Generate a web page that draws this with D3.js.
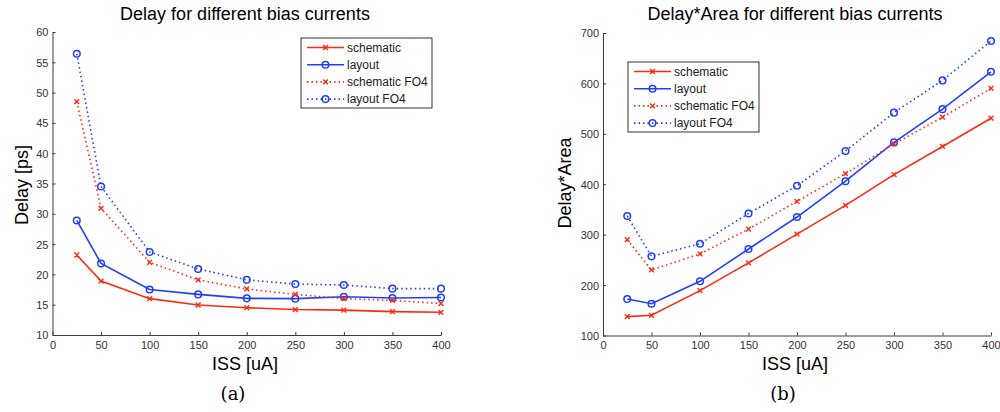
<!DOCTYPE html>
<html>
<head>
<meta charset="utf-8">
<script src="https://cdn.jsdelivr.net/npm/d3@7"></script>
<style>
  body { margin: 0; background: #fff; }
  svg { display: block; font-family: "Liberation Sans", Arial, sans-serif; }
</style>
</head>
<body>
<svg id="fig" width="1000" height="412"></svg>
<script>
// bias currents (x values) shared by both plots
const iss = [25, 50, 100, 150, 200, 250, 300, 350, 400];

// (a) delay in ps
const delaySchematic = [23.2, 18.9, 16.0, 14.95, 14.5, 14.2, 14.1, 13.85, 13.75];
const delayLayout = [28.9, 21.8, 17.5, 16.7, 16.05, 16.0, 16.3, 16.1, 16.2];
const delaySchematicFO4 = [48.5, 30.9, 22.0, 19.1, 17.6, 16.7, 16.0, 15.7, 15.2];
const delayLayoutFO4 = [56.4, 34.5, 23.7, 20.9, 19.1, 18.4, 18.25, 17.65, 17.65];

// (b) delay*area
const daSchematic = [137.5, 140, 189, 244, 301, 358, 419, 475, 531];
const daLayout = [172.5, 163, 207.5, 271.5, 335, 406, 483, 549, 623];
const daSchematicFO4 = [290, 230, 262, 311, 366, 421, 480, 533, 590];
const daLayoutFO4 = [337, 257, 282, 342, 397, 466, 542, 606, 684];

const seriesNames = ["schematic", "layout", "schematic FO4", "layout FO4"];
const xTicks = [0, 50, 100, 150, 200, 250, 300, 350, 400];
const delayTicks = [10, 15, 20, 25, 30, 35, 40, 45, 50, 55, 60];
const daTicks = [100, 200, 300, 400, 500, 600, 700];

const RED = "#ff2a12", BLUE = "#1f3fff";
const styles = [
  { color: RED, dash: null, marker: "x" },
  { color: BLUE, dash: null, marker: "o" },
  { color: RED, dash: "1.5,3", marker: "x" },
  { color: BLUE, dash: "1.5,3", marker: "o" }
];

const svg = d3.select("#fig");

function drawMarker(g, type, x, y, color) {
  if (type === "o") {
    g.append("circle").attr("cx", x).attr("cy", y).attr("r", 3.3)
      .attr("fill", "none").attr("stroke", color).attr("stroke-width", 1.5);
  } else {
    const s = 2.4;
    g.append("path")
      .attr("d", `M${x - s},${y - s}L${x + s},${y + s}M${x - s},${y + s}L${x + s},${y - s}`)
      .attr("stroke", color).attr("stroke-width", 1.4);
  }
}

function drawPanel(p) {
  const x = d3.scaleLinear().domain([0, 400]).range([p.left, p.right]);
  const y = d3.scaleLinear().domain(p.yDomain).range([p.bottom, p.top]);
  const g = svg.append("g");

  // axes, ticks pointing into the plot like matlab
  const xa = g.append("g").attr("transform", `translate(0,${p.bottom})`)
    .call(d3.axisBottom(x).tickValues(xTicks).tickSizeInner(-3).tickSizeOuter(0).tickPadding(6));
  const ya = g.append("g").attr("transform", `translate(${p.left},0)`)
    .call(d3.axisLeft(y).tickValues(p.yTicks).tickSizeInner(-3).tickSizeOuter(0).tickPadding(4));
  [xa, ya].forEach(a => {
    a.selectAll("path, line").attr("stroke", "#3a3a3a");
    a.selectAll("text").attr("fill", "#333").style("font-size", "11px");
  });
  ya.selectAll("text").attr("dy", "0.36em");

  const line = d3.line().x((d, i) => x(iss[i])).y(d => y(d));

  p.series.forEach((vals, k) => {
    const st = styles[k];
    g.append("path").datum(vals).attr("d", line)
      .attr("fill", "none").attr("stroke", st.color).attr("stroke-width", 1.6)
      .attr("stroke-dasharray", st.dash);
    vals.forEach((v, i) => drawMarker(g, st.marker, x(iss[i]), y(v), st.color));
  });

  // title and labels
  const cx = p.titleX;
  g.append("text").attr("x", cx).attr("y", 20).attr("text-anchor", "middle")
    .style("font-size", "18px").attr("fill", "#000").text(p.title);
  g.append("text").attr("x", cx).attr("y", 370).attr("text-anchor", "middle")
    .style("font-size", "18px").text("ISS [uA]");
  g.append("text").attr("transform", `translate(${p.yLabelX},${p.yLabelY}) rotate(-90)`)
    .attr("text-anchor", "middle").style("font-size", "18px").text(p.yLabel);
  g.append("text").attr("x", p.capX).attr("y", 400).attr("text-anchor", "middle")
    .style("font-family", "'DejaVu Serif', 'Liberation Serif', serif").style("font-size", "18px")
    .text(p.caption);

  // legend
  const lg = g.append("g").attr("transform", `translate(${p.legX},${p.legY})`);
  lg.append("rect").attr("x", 0).attr("y", 0).attr("width", 131).attr("height", 70)
    .attr("fill", "#fff").attr("stroke", "#333").attr("stroke-width", 1);
  seriesNames.forEach((name, k) => {
    const st = styles[k];
    const ry = 9.5 + k * 17.2;
    lg.append("line").attr("x1", 6).attr("x2", 43).attr("y1", ry).attr("y2", ry)
      .attr("stroke", st.color).attr("stroke-width", 1.6).attr("stroke-dasharray", st.dash);
    drawMarker(lg, st.marker, 24.5, ry, st.color);
    lg.append("text").attr("x", 46).attr("y", ry).attr("dy", "0.35em")
      .style("font-size", "12px").attr("fill", "#222").text(name);
  });
}

drawPanel({
  left: 52.5, right: 441, top: 32, bottom: 335,
  yDomain: [10, 60], yTicks: delayTicks,
  series: [delaySchematic, delayLayout, delaySchematicFO4, delayLayoutFO4],
  title: "Delay for different bias currents", titleX: 245,
  yLabel: "Delay [ps]", yLabelX: 28, yLabelY: 185,
  caption: "(a)", capX: 233,
  legX: 301, legY: 38
});

drawPanel({
  left: 603, right: 991, top: 33, bottom: 335.5,
  yDomain: [100, 700], yTicks: daTicks,
  series: [daSchematic, daLayout, daSchematicFO4, daLayoutFO4],
  title: "Delay*Area for different bias currents", titleX: 795,
  yLabel: "Delay*Area", yLabelX: 571, yLabelY: 183,
  caption: "(b)", capX: 783,
  legX: 628, legY: 62
});
</script>
</body>
</html>
